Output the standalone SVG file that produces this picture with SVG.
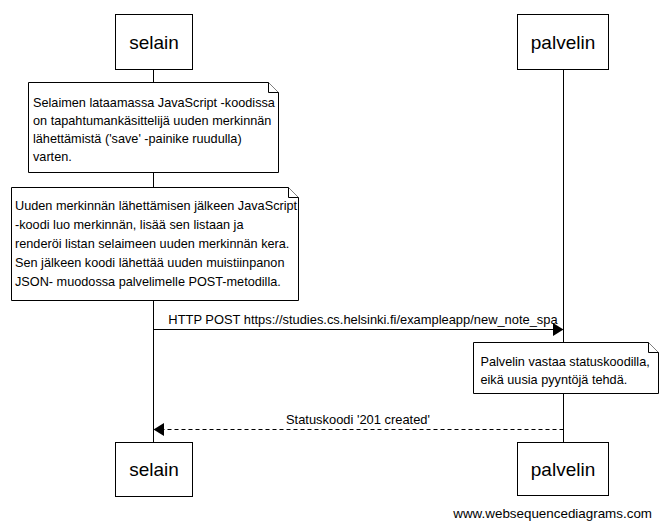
<svg xmlns="http://www.w3.org/2000/svg" width="661" height="528" viewBox="0 0 661 528">
  <style>
    text { font-family: "Liberation Sans", Arial, sans-serif; fill: #000; }
    .actor rect { fill: #fff; stroke: #000; stroke-width: 1; }
    .actor text { font-size: 19px; text-anchor: middle; }
    .life { stroke: #000; stroke-width: 1; }
    .note path { fill: #fff; stroke: #000; stroke-width: 1; }
    .note text { font-size: 12.7px; }
    .msg { stroke: #000; stroke-width: 1; fill: none; }
    .dash { stroke-dasharray: 4 3; }
    .lbl { font-size: 12.9px; text-anchor: middle; }
    .head { fill: #000; }
  </style>

  <!-- lifelines -->
  <g id="lifelines">
    <line class="life" x1="153.5" y1="69" x2="153.5" y2="442"/>
    <line class="life" x1="563.5" y1="69" x2="563.5" y2="442"/>
  </g>

  <!-- participants, top -->
  <g id="selain-top" class="actor">
    <rect x="115.5" y="14.5" width="77" height="55"/>
    <text x="154" y="48.5">selain</text>
  </g>
  <g id="palvelin-top" class="actor">
    <rect x="517.5" y="14.5" width="91" height="55"/>
    <text x="563" y="48.5">palvelin</text>
  </g>

  <!-- notes -->
  <g id="note-handler" class="note">
    <path d="M28.5,82.5 H268.5 L278.5,92.5 V172.5 H28.5 Z"/>
    <path d="M268.5,82.5 V92.5 H278.5"/>
    <text x="33" y="107">Selaimen lataamassa JavaScript -koodissa</text>
    <text x="33" y="125">on tapahtumankäsittelijä uuden merkinnän</text>
    <text x="33" y="143">lähettämistä ('save' -painike ruudulla)</text>
    <text x="33" y="161">varten.</text>
  </g>
  <g id="note-render" class="note">
    <path d="M11.5,187.5 H288.5 L298.5,197.5 V300.5 H11.5 Z"/>
    <path d="M288.5,187.5 V197.5 H298.5"/>
    <text x="15" y="210">Uuden merkinnän lähettämisen jälkeen JavaScript</text>
    <text x="15" y="229">-koodi luo merkinnän, lisää sen listaan ja</text>
    <text x="15" y="248">renderöi listan selaimeen uuden merkinnän kera.</text>
    <text x="15" y="267">Sen jälkeen koodi lähettää uuden muistiinpanon</text>
    <text x="15" y="286">JSON- muodossa palvelimelle POST-metodilla.</text>
  </g>
  <g id="note-server" class="note">
    <path d="M473.5,342.5 H648.5 L658.5,352.5 V393.5 H473.5 Z"/>
    <path d="M648.5,342.5 V352.5 H658.5"/>
    <text x="480.5" y="366">Palvelin vastaa statuskoodilla,</text>
    <text x="480.5" y="384">eikä uusia pyyntöjä tehdä.</text>
  </g>

  <!-- messages -->
  <g id="connectors">
    <line class="msg" x1="153.5" y1="329.5" x2="556" y2="329.5"/>
    <polygon class="head" points="553,323 563.5,329.5 553,336"/>
    <text class="lbl" x="363" y="324">HTTP POST https://studies.cs.helsinki.fi/exampleapp/new_note_spa</text>

    <line class="msg dash" x1="563.5" y1="429.5" x2="160" y2="429.5"/>
    <polygon class="head" points="164,423 153.5,429.5 164,436"/>
    <text class="lbl" x="358" y="424">Statuskoodi '201 created'</text>
  </g>

  <!-- participants, bottom -->
  <g id="selain-bottom" class="actor">
    <rect x="115.5" y="442.5" width="77" height="54"/>
    <text x="154" y="476">selain</text>
  </g>
  <g id="palvelin-bottom" class="actor">
    <rect x="517.5" y="442.5" width="91" height="53"/>
    <text x="563" y="476">palvelin</text>
  </g>

  <text x="652" y="518" style="font-size:13.4px; text-anchor:end">www.websequencediagrams.com</text>
</svg>
